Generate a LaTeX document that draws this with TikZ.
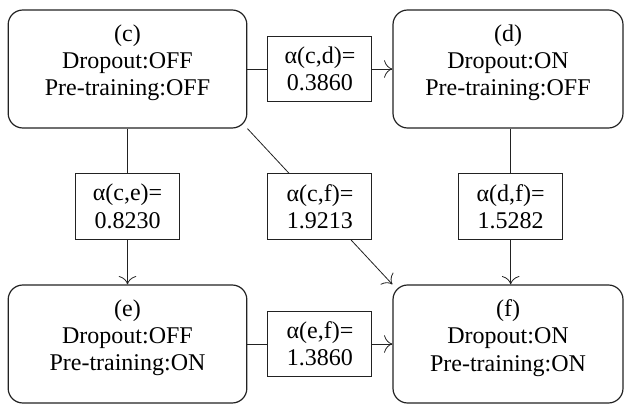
\documentclass[tikz,border=0pt]{standalone}
\usepackage{fontspec}
\setmainfont{Liberation Serif}
\usetikzlibrary{arrows.meta, positioning}
\definecolor{cline}{HTML}{222222}
\tikzset{
  every picture/.style={font=\fontsize{18}{20.5}\selectfont, line width=0.6pt},
  state/.style={draw=cline, rounded corners=11pt, align=center, minimum width=#1, minimum height=88.5pt, text depth=13pt, line width=0.9pt},
  state/.default=179pt,
  weight/.style={draw=cline, fill=white, align=center, minimum width=78pt, minimum height=49pt, inner sep=2pt, line width=0.8pt},
  arrow/.style={-{To[length=2.2mm]}, draw=cline},
}

\begin{document}
\begin{tikzpicture}[x=0.75pt, y=-0.75pt]
  \useasboundingbox (0,0) rectangle (624,403);
  \node[state] (c) at (127.5,69) {(c)\\Dropout:OFF\\Pre-training:OFF};
  \node[state=172.5pt] (d) at (508,69) {(d)\\Dropout:ON\\Pre-training:OFF};
  \node[state] (e) at (127.5,344) {(e)\\Dropout:OFF\\Pre-training:ON};
  \node[state=172.5pt] (f) at (508,344) {(f)\\Dropout:ON\\Pre-training:ON};
  \draw[arrow] (c) -- (d) node[weight, midway] (cd) {α(c,d)=\\0.3860};
  \draw[arrow] (c) -- (e) node[weight, midway] (ce) {α(c,e)=\\0.8230};
  \draw[arrow] (c.south east) -- (f.north west) node[weight, midway] (cf) {α(c,f)=\\1.9213};
  \draw[arrow] ([xshift=2pt]d.south) -- ([xshift=2pt]f.north) node[weight, midway] (df) {α(d,f)=\\1.5282};
  \draw[arrow] (e) -- (f) node[weight, midway] (ef) {α(e,f)=\\1.3860};
\end{tikzpicture}
\end{document}
